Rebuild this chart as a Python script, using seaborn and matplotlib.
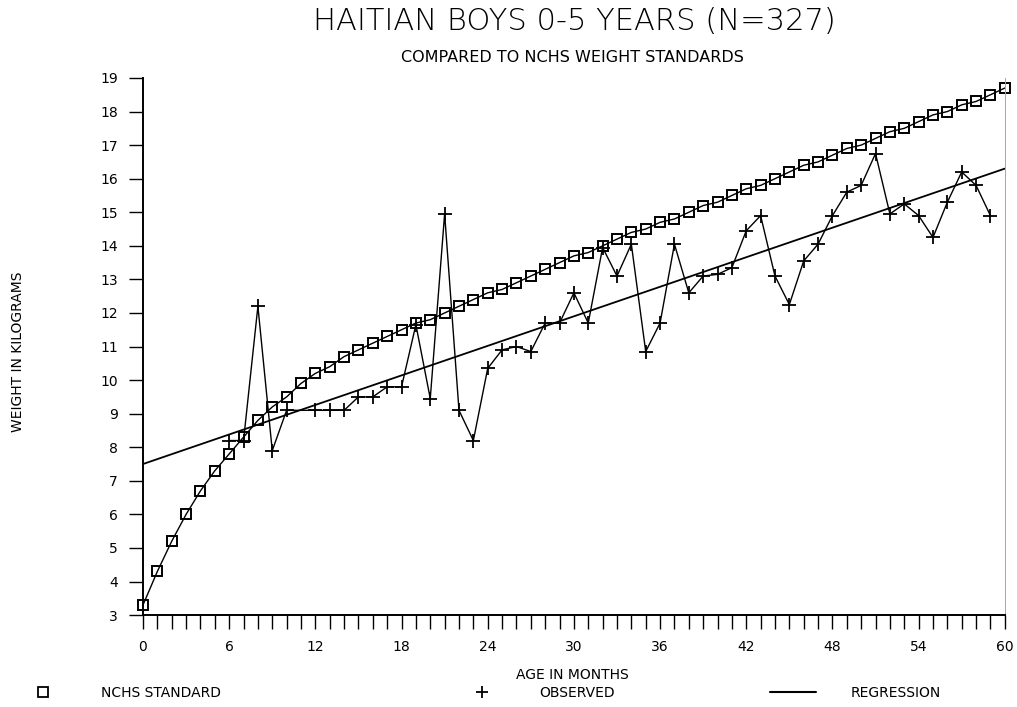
import matplotlib
matplotlib.use("Agg")
import matplotlib.pyplot as plt
from matplotlib.lines import Line2D
from matplotlib.ticker import MultipleLocator
import seaborn as sns
import pandas as pd

# NCHS standard (median weight, kg) by month 0-60
nchs_month = list(range(0, 61))
nchs_weight = [3.3, 4.3, 5.2, 6.0, 6.7, 7.3, 7.8, 8.3, 8.8, 9.2,
               9.5, 9.9, 10.2, 10.4, 10.7, 10.9, 11.1, 11.3, 11.5, 11.7,
               11.8, 12.0, 12.2, 12.4, 12.6, 12.7, 12.9, 13.1, 13.3, 13.5,
               13.7, 13.8, 14.0, 14.2, 14.4, 14.5, 14.7, 14.8, 15.0, 15.2,
               15.3, 15.5, 15.7, 15.8, 16.0, 16.2, 16.4, 16.5, 16.7, 16.9,
               17.0, 17.2, 17.4, 17.5, 17.7, 17.9, 18.0, 18.2, 18.3, 18.5,
               18.7]

# observed mean weights (no data at month 11)
obs_month = [6, 7, 8, 9, 10, 12, 13, 14, 15, 16, 17, 18, 19, 20,
             21, 22, 23, 24, 25, 26, 27, 28, 29, 30, 31, 32, 33, 34,
             35, 36, 37, 38, 39, 40, 41, 42, 43, 44, 45, 46, 47, 48,
             49, 50, 51, 52, 53, 54, 55, 56, 57, 58, 59]
obs_weight = [8.2, 8.2, 12.2, 7.9, 9.1, 9.1, 9.1, 9.1, 9.5, 9.5, 9.8, 9.8, 11.65, 9.45,
              14.95, 9.1, 8.2, 10.35, 10.9, 11.0, 10.85, 11.7, 11.7, 12.6, 11.7, 13.95, 13.1, 14.05,
              10.85, 11.7, 14.05, 12.6, 13.1, 13.15, 13.35, 14.45, 14.9, 13.1, 12.25, 13.55, 14.05, 14.9,
              15.6, 15.8, 16.75, 14.95, 15.25, 14.9, 14.25, 15.3, 16.2, 15.8, 14.9]

# regression line end points
reg_month = [0, 60]
reg_weight = [7.5, 16.3]

sns.set_style("ticks")
plt.rcParams['font.family'] = ['DejaVu Sans']
plt.rcParams['text.color'] = 'black'
plt.rcParams['xtick.color'] = 'black'
plt.rcParams['ytick.color'] = 'black'
plt.rcParams['axes.edgecolor'] = 'black'

fig = plt.figure(figsize=(10.17, 7.07), dpi=100)
ax = fig.add_axes([0.1406, 0.130, 0.8474, 0.7597])

nchs = pd.DataFrame({'month': nchs_month, 'weight': nchs_weight})
obs = pd.DataFrame({'month': obs_month, 'weight': obs_weight})
reg = pd.DataFrame({'month': reg_month, 'weight': reg_weight})

sns.lineplot(data=reg, x='month', y='weight', ax=ax, color='black', lw=1.3)
sns.lineplot(data=nchs, x='month', y='weight', ax=ax, color='black', lw=1.0,
             marker='s', markersize=7, mfc='none', mec='black', mew=1.4, clip_on=False)
sns.lineplot(data=obs, x='month', y='weight', ax=ax, color='black', lw=1.0,
             marker='+', markersize=10, mec='black', mew=1.3)

ax.set_xlim(0, 60)
ax.set_ylim(3, 19)
ax.xaxis.set_major_locator(MultipleLocator(6))
ax.xaxis.set_minor_locator(MultipleLocator(1))
ax.yaxis.set_major_locator(MultipleLocator(1))
ax.tick_params(axis='x', which='both', direction='out', length=10, width=1.0,
               pad=8, labelsize=10)
ax.tick_params(axis='y', which='major', direction='out', length=10, width=1.0,
               pad=8, labelsize=10)
ax.set_xlabel('')
ax.set_ylabel('')
ax.spines['top'].set_visible(False)
ax.spines['right'].set_color('0.65')
ax.spines['right'].set_linewidth(0.7)
for s in ['left', 'bottom']:
    ax.spines[s].set_linewidth(1.4)

fig.text(0.565, 0.969, 'HAITIAN BOYS 0-5 YEARS (N=327)', ha='center', va='center',
         fontsize=22, fontweight='light', color='black')
fig.text(0.5625, 0.918, 'COMPARED TO NCHS WEIGHT STANDARDS', ha='center', va='center',
         fontsize=11.5)
fig.text(0.018, 0.502, 'WEIGHT IN KILOGRAMS', rotation=90, ha='center', va='center',
         fontsize=10)
fig.text(0.5626, 0.045, 'AGE IN MONTHS', ha='center', va='center', fontsize=10)

# legend row
handles = [
    (Line2D([], [], marker='s', ls='none', mfc='none', mec='black', markersize=7, mew=1.3),
     'NCHS STANDARD', 0.0197),
    (Line2D([], [], marker='+', ls='none', mec='black', markersize=8, mew=1.3),
     'OBSERVED', 0.451),
    (Line2D([], [], color='black', lw=1.5), 'REGRESSION', 0.757),
]
for h, lab, xpos in handles:
    fig.legend(handles=[h], labels=[lab], loc='center left', bbox_to_anchor=(xpos, 0.0198),
               frameon=False, handlelength=3.3, handletextpad=2.5, borderpad=0,
               borderaxespad=0, fontsize=10)

fig.savefig('out.png', dpi=100)
